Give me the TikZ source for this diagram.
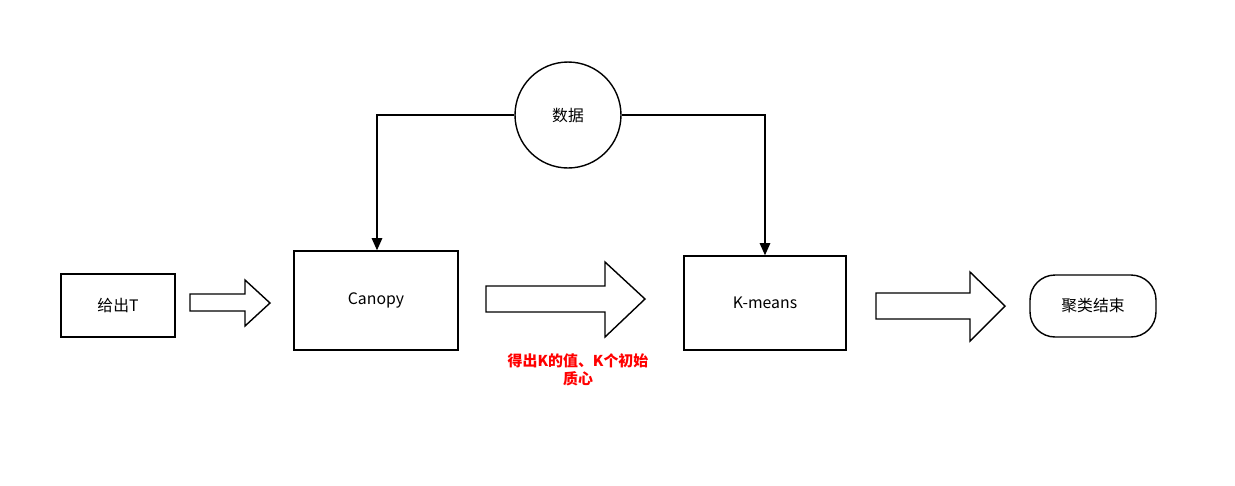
\documentclass[tikz,border=0pt]{standalone}
\usepackage{fontspec}
\setmainfont{Noto Sans CJK SC}
\usetikzlibrary{arrows.meta}
\begin{document}
\begin{tikzpicture}[x=0.02cm,y=-0.02cm,
  bx/.style={draw,thick,minimum width=#1*0.02cm},
  conn/.style={draw,line width=0.9pt,-{Triangle[length=7pt,width=6pt]}},
  blk/.style={draw,line width=0.8pt,fill=white},
  font=\fontsize{9}{11}\selectfont]
\useasboundingbox (0,0) rectangle (1235,485);
\node[draw,thick,minimum width=2.28cm,minimum height=1.26cm] (t) at (118,305.5) {给出T};
\node[draw,thick,minimum width=3.28cm,minimum height=1.98cm] (c) at (376,300.5) {Canopy};
\node[draw,thick,minimum width=3.24cm,minimum height=1.88cm] (k) at (765,303) {K-means};
\node[draw,thick,rounded corners=0.5cm,minimum width=2.52cm,minimum height=1.24cm] (e) at (1093,306) {聚类结束};
\node[draw,thick,circle,minimum size=2.12cm] (d) at (568,115) {数据};
\draw[conn] (d.west) -| (c.north -| 377,0);
\draw[conn] (d.east) -| (k.north);
\draw[blk] (190,294) -- (245,294) -- (245,280) -- (270,303) -- (245,326) -- (245,311) -- (190,311) -- cycle;
\draw[blk] (486,286) -- (605,286) -- (605,262) -- (645,299) -- (605,337) -- (605,312) -- (486,312) -- cycle;
\draw[blk] (876,293) -- (970,293) -- (970,272) -- (1005,306) -- (970,341) -- (970,319) -- (876,319) -- cycle;
\node[text=red,font=\fontsize{8.5}{10}\selectfont\bfseries,align=center] (lab) at (578,370) {得出K的值、K个初始\\质心};
\end{tikzpicture}
\end{document}
